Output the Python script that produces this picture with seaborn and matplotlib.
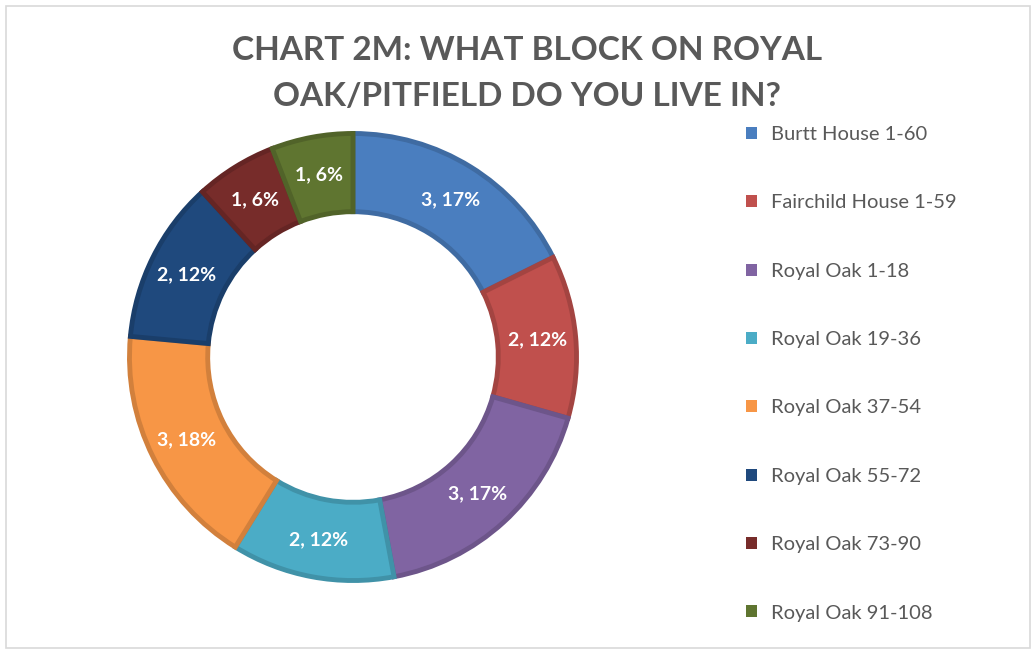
import matplotlib
matplotlib.use("Agg")
import matplotlib.pyplot as plt
import matplotlib.patches as mpatches
import seaborn as sns

# data
blocks = ["Burtt House 1-60", "Fairchild House 1-59", "Royal Oak 1-18",
          "Royal Oak 19-36", "Royal Oak 37-54", "Royal Oak 55-72",
          "Royal Oak 73-90", "Royal Oak 91-108"]
counts = [3, 2, 3, 2, 3, 2, 1, 1]
pct_labels = ["17%", "12%", "17%", "12%", "18%", "12%", "6%", "6%"]
colors = ["#4a7ebf", "#c0504d", "#8064a2", "#4bacc6",
          "#f79646", "#1f497d", "#772c2a", "#5f7530"]

sns.set_theme(style="white")
plt.rcParams['font.family'] = ['Lato', 'DejaVu Sans']

W, H = 1034, 657
fig = plt.figure(figsize=(W / 100, H / 100), dpi=100)

# light chart border
fig.patches.append(mpatches.Rectangle((6 / W, 9 / H), 1024 / W, 642 / H,
                                      transform=fig.transFigure, fill=False,
                                      edgecolor="#d9d9d9", linewidth=1.2))

cx, cy, r = 353, 357, 228
ax = fig.add_axes([(cx - r) / W, (H - cy - r) / H, 2 * r / W, 2 * r / H])

# slightly darker outline for each segment
edge_cols = [tuple(v * 0.85 for v in matplotlib.colors.to_rgb(c)) for c in colors]

labels = [f"{c}, {p}" for c, p in zip(counts, pct_labels)]
wedges, texts = ax.pie(counts, colors=colors, startangle=90, counterclock=False,
                       radius=1.0, labels=labels, labeldistance=0.83,
                       wedgeprops=dict(width=0.35, linewidth=0))
for w, ec in zip(wedges, edge_cols):
    w.set_edgecolor(ec)
    w.set_linewidth(3.5)
for t in texts:
    t.set_ha("center")
    t.set_va("center")
    t.set_color("white")
    t.set_fontsize(14)
    t.set_fontweight("bold")
ax.set_xlim(-1.02, 1.02)
ax.set_ylim(-1.02, 1.02)
ax.axis("off")

# title
fig.text(527 / W, 1 - 50 / H, "CHART 2M: WHAT BLOCK ON ROYAL", ha="center", va="center",
         fontsize=24, fontweight="bold", color="#595959")
fig.text(527 / W, 1 - 97 / H, "OAK/PITFIELD DO YOU LIVE IN?", ha="center", va="center",
         fontsize=24, fontweight="bold", color="#595959")

# legend
handles = [mpatches.Patch(facecolor=c, edgecolor="none") for c in colors]
leg = fig.legend(handles, blocks, loc="upper left", bbox_to_anchor=(736 / W, 1 - 116 / H),
                 frameon=False, fontsize=14.5, labelspacing=2.55, handlelength=0.55,
                 handleheight=0.55, handletextpad=0.7, borderpad=0)
for t in leg.get_texts():
    t.set_color("#595959")

fig.savefig("out.png", dpi=100)
